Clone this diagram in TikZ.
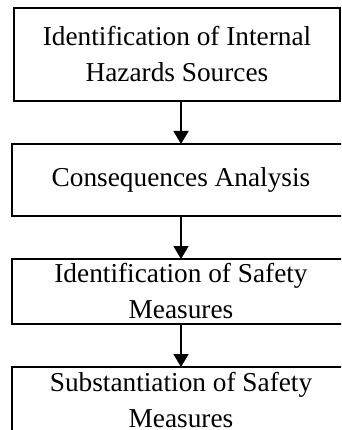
\documentclass[tikz,border=0pt]{standalone}
\usepackage{fontspec}
\setmainfont{Liberation Serif}
\usetikzlibrary{positioning,arrows.meta}

\begin{document}
\begin{tikzpicture}[
  node distance=43pt,
  stage/.style={draw, line width=1.8pt, align=center, font=\fontsize{27.3}{36}\selectfont, inner sep=0pt, outer sep=0pt},
  arr/.style={-{Triangle[length=13pt,width=15pt]}, line width=1.8pt}
]
\useasboundingbox (0,0) rectangle (341pt,-430pt);
\clip (0,0) rectangle (341pt,-430pt);

\node[stage, minimum width=326pt, minimum height=93pt] (haz) at (177pt,-54.5pt) {Identification of Internal\\Hazards Sources};
\node[stage, minimum width=338pt, minimum height=72pt, below=of haz, xshift=4pt] (cons) {Consequences Analysis};
\node[stage, minimum width=338pt, minimum height=65pt, below=of cons] (ident) {Identification of Safety\\Measures};
\node[stage, minimum width=338pt, minimum height=66pt, below=of ident] (subst) {Substantiation of Safety\\Measures};

\draw[arr] (haz.south -| cons) -- (cons);
\draw[arr] (cons) -- (ident);
\draw[arr] (ident) -- (subst);
\end{tikzpicture}
\end{document}
